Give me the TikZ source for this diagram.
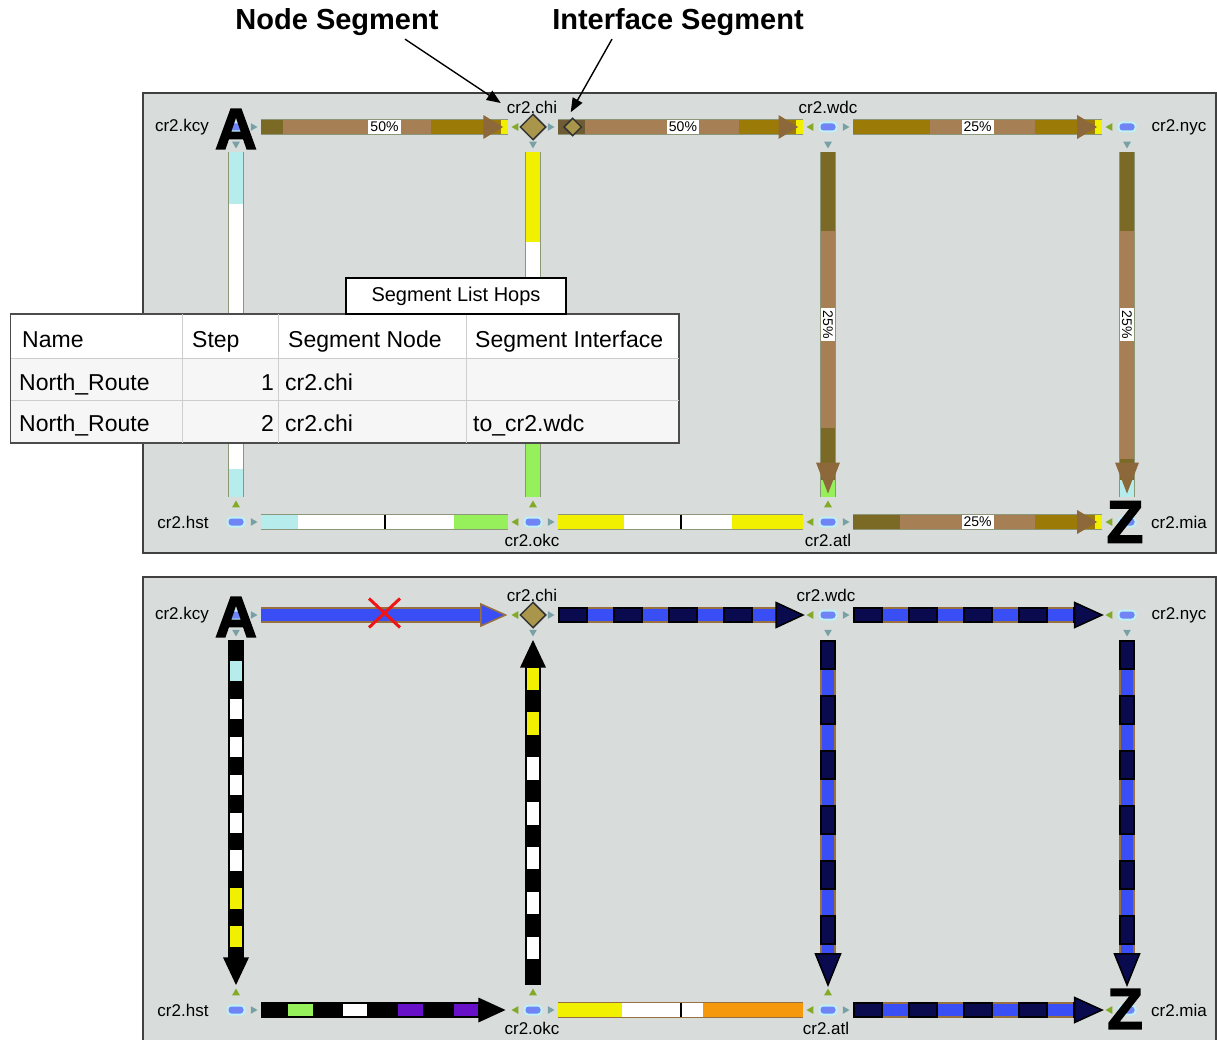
\documentclass[tikz,border=0pt]{standalone}
\usepackage{fontspec}
\setmainfont{Liberation Sans}
\newfontfamily\heavyfont[FakeBold=2.5]{Liberation Sans Bold}
\usetikzlibrary{arrows.meta,calc,shapes.geometric,shapes.misc}
\definecolor{panelbg}{RGB}{216,221,220}
\definecolor{olive}{RGB}{122,106,38}
\definecolor{tan}{RGB}{166,128,84}
\definecolor{gold}{RGB}{156,122,8}
\definecolor{yel}{RGB}{240,240,0}
\definecolor{cyanx}{RGB}{182,236,236}
\definecolor{greenx}{RGB}{150,240,92}
\definecolor{headbr}{RGB}{140,104,58}
\definecolor{dkbr}{RGB}{112,92,52}
\definecolor{pillblue}{RGB}{112,132,245}
\definecolor{halo}{RGB}{190,240,245}
\definecolor{diamfill}{RGB}{170,150,74}
\definecolor{navy}{RGB}{10,10,78}
\definecolor{bblue}{RGB}{58,78,245}
\definecolor{purp}{RGB}{104,16,200}
\definecolor{orng}{RGB}{246,152,12}
\definecolor{bedge}{RGB}{150,112,62}
\definecolor{edgeg}{RGB}{140,150,120}
\definecolor{pipa}{RGB}{120,160,165}
\definecolor{pipb}{RGB}{130,170,40}
\definecolor{gridc}{RGB}{205,205,205}
\definecolor{rowbg}{RGB}{246,246,246}
\tikzset{
  panel/.style={draw=black!75, line width=1.5pt, fill=panelbg},
  rlab/.style={font=\fontsize{17}{20}\selectfont, inner sep=1pt},
  title/.style={font=\fontsize{29}{34}\selectfont\bfseries},
  pill/.style={draw=halo, line width=2pt, fill=pillblue, rounded corners=3.5pt, minimum width=17pt, minimum height=9pt, inner sep=0pt},
  diam/.style={diamond, draw=black!80, line width=1.5pt, fill=diamfill, minimum size=26pt, inner sep=0pt},
  bigltr/.style={font=\heavyfont\fontsize{58}{60}\selectfont, inner sep=0pt},
  pip/.style={regular polygon, regular polygon sides=3, inner sep=0pt, minimum size=9pt},
  pct/.style={fill=white, font=\fontsize{14}{14}\selectfont, inner xsep=2pt, inner ysep=0pt, minimum height=14pt},
  segline/.style={line width=14pt},
  gapseg/.style={line width=12pt},
  edgebar/.style={line width=16pt, draw=edgeg},
  blkbar/.style={line width=16pt, draw=black},
  bluebar/.style={line width=16pt, draw=bedge, postaction={draw=bblue, line width=12pt}},
  dashbar/.style={line width=16pt, draw=bedge, postaction={draw=bblue, line width=12pt},
    postaction={draw=black, line width=16pt, dash pattern=on 30pt off 25pt},
    postaction={draw=navy, line width=12pt, dash pattern=on 26pt off 29pt, dash phase=53pt}},
  brhead/.style={fill=headbr, draw=none},
  navyhead/.style={fill=navy, draw=black, line width=1.5pt},
  xmark/.style={cross out, draw={rgb,255:red,240;green,20;blue,20}, line width=3pt, minimum width=28pt, minimum height=26pt, inner sep=0pt},
  arr/.style={-{Triangle[length=14pt,width=11pt]}, line width=1.4pt},
  cell/.style={anchor=base west, font=\fontsize{23}{27}\selectfont, inner sep=0pt},
  grid/.style={draw=gridc, line width=1pt},
}
\newcommand\segs[4][segline]{\foreach \fa/\fb/\cc in {#4}{\draw[#1, draw=\cc] ($(#2)!\fa!(#3)$) -- ($(#2)!\fb!(#3)$);}}
\newcommand\arrhead[6]{%
  \coordinate (hb) at ($(#1)!#3!(#2)$); \coordinate (ht) at ($(#1)!#4!(#2)$);
  \path[#6] (ht) -- ($(hb)!#5!90:(ht)$) -- ($(hb)!#5!-90:(ht)$) -- cycle;}
\newcommand\midtick[2]{\draw[line width=2pt] ($(#1)!.5!(#2)+(0,-7)$) -- ($(#1)!.5!(#2)+(0,7)$);}
\begin{document}
\begin{tikzpicture}[x=1pt,y=-1pt]
\useasboundingbox (0,0) rectangle (1217,1040);
\draw[panel] (143,93) rectangle (1216,553);
\draw[panel] (143,577) rectangle (1216,1046);
% routers, upper view
\node[pill] (kcyp) at (236,127) {};
\node[diam] (chi) at (533,127) {};
\node[pill] (wdc) at (828,127) {};
\node[pill] (nyc) at (1127,127) {};
\node[pill] (hst) at (236,522) {};
\node[pill] (okc) at (533,522) {};
\node[pill] (atl) at (828,522) {};
\node[pill] (miap) at (1127,522) {};
\node[rlab] (kcyL) at (182,127) {cr2.kcy};
\node[rlab] (chiL) at (532,107) {cr2.chi};
\node[rlab] (wdcL) at (828,107) {cr2.wdc};
\node[rlab] (nycL) at (1179,127) {cr2.nyc};
\node[rlab] (hstL) at (183,522) {cr2.hst};
\node[rlab] (okcL) at (532,540) {cr2.okc};
\node[rlab] (atlL) at (828,540) {cr2.atl};
\node[rlab] (miaL) at (1179,522) {cr2.mia};
% routers, lower view
\node[pill] (kcyp2) at (236,615) {};
\node[diam] (chi2) at (533,615) {};
\node[pill] (wdc2) at (828,615) {};
\node[pill] (nyc2) at (1127,615) {};
\node[pill] (hst2) at (236,1010) {};
\node[pill] (okc2) at (533,1010) {};
\node[pill] (atl2) at (828,1010) {};
\node[pill] (miap2) at (1127,1010) {};
\node[rlab] (kcyL2) at (182,615) {cr2.kcy};
\node[rlab] (chiL2) at (532,595) {cr2.chi};
\node[rlab] (wdcL2) at (826,595) {cr2.wdc};
\node[rlab] (nycL2) at (1179,615) {cr2.nyc};
\node[rlab] (hstL2) at (183,1010) {cr2.hst};
\node[rlab] (okcL2) at (532,1028) {cr2.okc};
\node[rlab] (atlL2) at (826,1028) {cr2.atl};
\node[rlab] (miaL2) at (1179,1010) {cr2.mia};
% bar ends and the little pointers
\foreach \nm/\f/\t/\ang in {h1/kcyp/chi/0, h2/chi/wdc/0, h3/wdc/nyc/0, h4/hst/okc/0, h5/okc/atl/0, h6/atl/miap/0,
    v1/kcyp/hst/-90, v2/chi/okc/-90, v3/wdc/atl/-90, v4/nyc/miap/-90,
    H1/kcyp2/chi2/0, H2/chi2/wdc2/0, H3/wdc2/nyc2/0, H4/hst2/okc2/0, H5/okc2/atl2/0, H6/atl2/miap2/0,
    V1/kcyp2/hst2/-90, V2/chi2/okc2/-90, V3/wdc2/atl2/-90, V4/nyc2/miap2/-90}{
  \coordinate (\nm a) at ($(\f.center)!25pt!(\t.center)$);
  \coordinate (\nm b) at ($(\t.center)!25pt!(\f.center)$);
  \node[pip, fill=pipa, rotate=\ang-90] (\nm p1) at ($(\f.center)!17pt!(\t.center)$) {};
  \node[pip, fill=pipb, rotate=\ang+90] (\nm p2) at ($(\t.center)!17pt!(\f.center)$) {};
}
% upper view: load bars
\draw[edgebar] (h1a) -- (h1b);
\segs{h1a}{h1b}{0/.09/olive, .09/.69/tan, .69/.97/gold, .97/1/yel}
\arrhead{h1a}{h1b}{.9}{.98}{12pt}{brhead}
\path (h1a) -- node[pct] (pc1) {50\%} (h1b);
\draw[edgebar] (h2a) -- (h2b);
\segs{h2a}{h2b}{0/.11/dkbr, .11/.74/tan, .74/.97/gold, .97/1/yel}
\arrhead{h2a}{h2b}{.9}{.98}{12pt}{brhead}
\path (h2a) -- node[pct, pos=.51] (pc2) {50\%} (h2b);
\node[diam, minimum size=18pt] (ifd) at ($(h2a)!.06!(h2b)$) {};
\draw[edgebar] (h3a) -- (h3b);
\segs{h3a}{h3b}{0/.31/gold, .31/.73/tan, .73/.97/gold, .97/1/yel}
\arrhead{h3a}{h3b}{.9}{.98}{12pt}{brhead}
\path (h3a) -- node[pct] (pc3) {25\%} (h3b);
\draw[edgebar] (h4a) -- (h4b);
\segs{h4a}{h4b}{0/.15/cyanx, .15/.78/white, .78/1/greenx}
\midtick{h4a}{h4b}
\draw[edgebar] (h5a) -- (h5b);
\segs{h5a}{h5b}{0/.27/yel, .27/.71/white, .71/1/yel}
\midtick{h5a}{h5b}
\draw[edgebar] (h6a) -- (h6b);
\segs{h6a}{h6b}{0/.19/olive, .19/.73/tan, .73/.97/gold, .97/1/yel}
\arrhead{h6a}{h6b}{.9}{.98}{12pt}{brhead}
\path (h6a) -- node[pct] (pc6) {25\%} (h6b);
\draw[edgebar] (v1a) -- (v1b);
\segs{v1a}{v1b}{0/.15/cyanx, .15/.92/white, .92/1/cyanx}
\draw[edgebar] (v2a) -- (v2b);
\segs{v2a}{v2b}{0/.26/yel, .26/.84/white, .84/1/greenx}
\draw[edgebar] (v3a) -- (v3b);
\segs{v3a}{v3b}{0/.23/olive, .23/.8/tan, .8/.95/olive, .95/1/greenx}
\arrhead{v3a}{v3b}{.9}{.99}{12pt}{brhead}
\path (v3a) -- node[pct, rotate=-90] (pc7) {25\%} (v3b);
\draw[edgebar] (v4a) -- (v4b);
\segs{v4a}{v4b}{0/.23/olive, .23/.89/tan, .89/.95/olive, .95/1/cyanx}
\arrhead{v4a}{v4b}{.9}{.99}{12pt}{brhead}
\path (v4a) -- node[pct, rotate=-90] (pc8) {25\%} (v4b);
% lower view: rerouted traffic
\draw[bluebar] (H1a) -- ($(H1a)!.91!(H1b)$);
\arrhead{H1a}{H1b}{.89}{.99}{11pt}{fill=bblue, draw=bedge, line width=1.5pt}
\node[xmark] (cut) at ($(H1a)!.5!(H1b)+(0,-2)$) {};
\draw[dashbar] (H2a) -- ($(H2a)!.9!(H2b)$);
\arrhead{H2a}{H2b}{.89}{1}{12.5pt}{navyhead}
\draw[dashbar] (H3a) -- ($(H3a)!.9!(H3b)$);
\arrhead{H3a}{H3b}{.89}{1}{12.5pt}{navyhead}
\draw[blkbar] (H4a) -- ($(H4a)!.9!(H4b)$);
\segs[gapseg]{H4a}{H4b}{.11/.21/greenx, .33/.43/white, .555/.655/purp, .78/.88/purp}
\arrhead{H4a}{H4b}{.88}{.99}{12.5pt}{fill=black}
\draw[edgebar, draw=bedge] (H5a) -- (H5b);
\segs{H5a}{H5b}{0/.26/yel, .26/.59/white, .59/1/orng}
\midtick{H5a}{H5b}
\draw[dashbar] (H6a) -- ($(H6a)!.9!(H6b)$);
\arrhead{H6a}{H6b}{.89}{1}{12.5pt}{navyhead}
\draw[blkbar] (V1a) -- ($(V1a)!.93!(V1b)$);
\segs[gapseg]{V1a}{V1b}{.06/.12/cyanx, .17/.23/white, .28/.34/white, .39/.45/white, .50/.56/white, .61/.67/white, .72/.78/yel, .83/.89/yel}
\arrhead{V1a}{V1b}{.92}{1}{13pt}{fill=black}
\draw[blkbar] ($(V2a)!.07!(V2b)$) -- (V2b);
\segs[gapseg]{V2a}{V2b}{.08/.145/yel, .21/.275/yel, .34/.405/white, .47/.535/white, .60/.665/white, .73/.795/white, .86/.925/white}
\arrhead{V2b}{V2a}{.92}{1}{13pt}{fill=black}
\draw[dashbar] (V3a) -- ($(V3a)!.92!(V3b)$);
\arrhead{V3a}{V3b}{.91}{1}{12.5pt}{navyhead}
\draw[dashbar] (V4a) -- ($(V4a)!.92!(V4b)$);
\arrhead{V4a}{V4b}{.91}{1}{12.5pt}{navyhead}
% end points A and Z
\node[bigltr] (kcy) at (236,129) {A};
\node[bigltr, font=\heavyfont\fontsize{60}{62}\selectfont] (mia) at (1125,522) {Z};
\node[bigltr] (kcy2) at (236,617) {A};
\node[bigltr] (mia2) at (1125,1009) {Z};
% segment list table
\node[draw=black!70, fill=white, line width=1pt, minimum width=668pt, minimum height=128pt, inner sep=0pt, anchor=north west] (tbl) at (10,314) {};
\fill[rowbg] ($(tbl.north west)+(1,44)$) rectangle ($(tbl.south east)+(-1,-1)$);
\foreach \cx in {172,268,456} \draw[grid] ($(tbl.north west)+(\cx,0)$) -- ($(tbl.south west)+(\cx,0)$);
\foreach \ry in {44,86} \draw[grid] ($(tbl.north west)+(0,\ry)$) -- ($(tbl.north east)+(0,\ry)$);
\draw[draw=black!70, line width=1pt] (tbl.north west) rectangle (tbl.south east);
\node[draw=black, line width=1.2pt, fill=white, minimum width=220pt, minimum height=36pt, font=\fontsize{20}{24}\selectfont] (hops) at (456,296) {Segment List Hops};
\node[cell] (cName) at (22,347) {Name};
\node[cell] (cStep) at (192,347) {Step};
\node[cell] (cNode) at (288,347) {Segment Node};
\node[cell] (cIf) at (475,347) {Segment Interface};
\node[cell] (r1n) at (19,390) {North\_Route};
\node[cell, anchor=base east] (r1s) at (274,390) {1};
\node[cell] (r1d) at (285,390) {cr2.chi};
\node[cell] (r2n) at (19,431) {North\_Route};
\node[cell, anchor=base east] (r2s) at (274,431) {2};
\node[cell] (r2d) at (285,431) {cr2.chi};
\node[cell] (r2i) at (473,431) {to\_cr2.wdc};
% callouts
\node[title] (nseg) at (337,22) {Node Segment};
\node[title] (iseg) at (678,22) {Interface Segment};
\draw[arr] ($(nseg.south)+(68,0)$) -- ($(chiL.west)+(-5,-4)$);
\draw[arr] ($(iseg.south)+(-66,0)$) -- ($(ifd.north)+(-2,-5)$);
\end{tikzpicture}
\end{document}
